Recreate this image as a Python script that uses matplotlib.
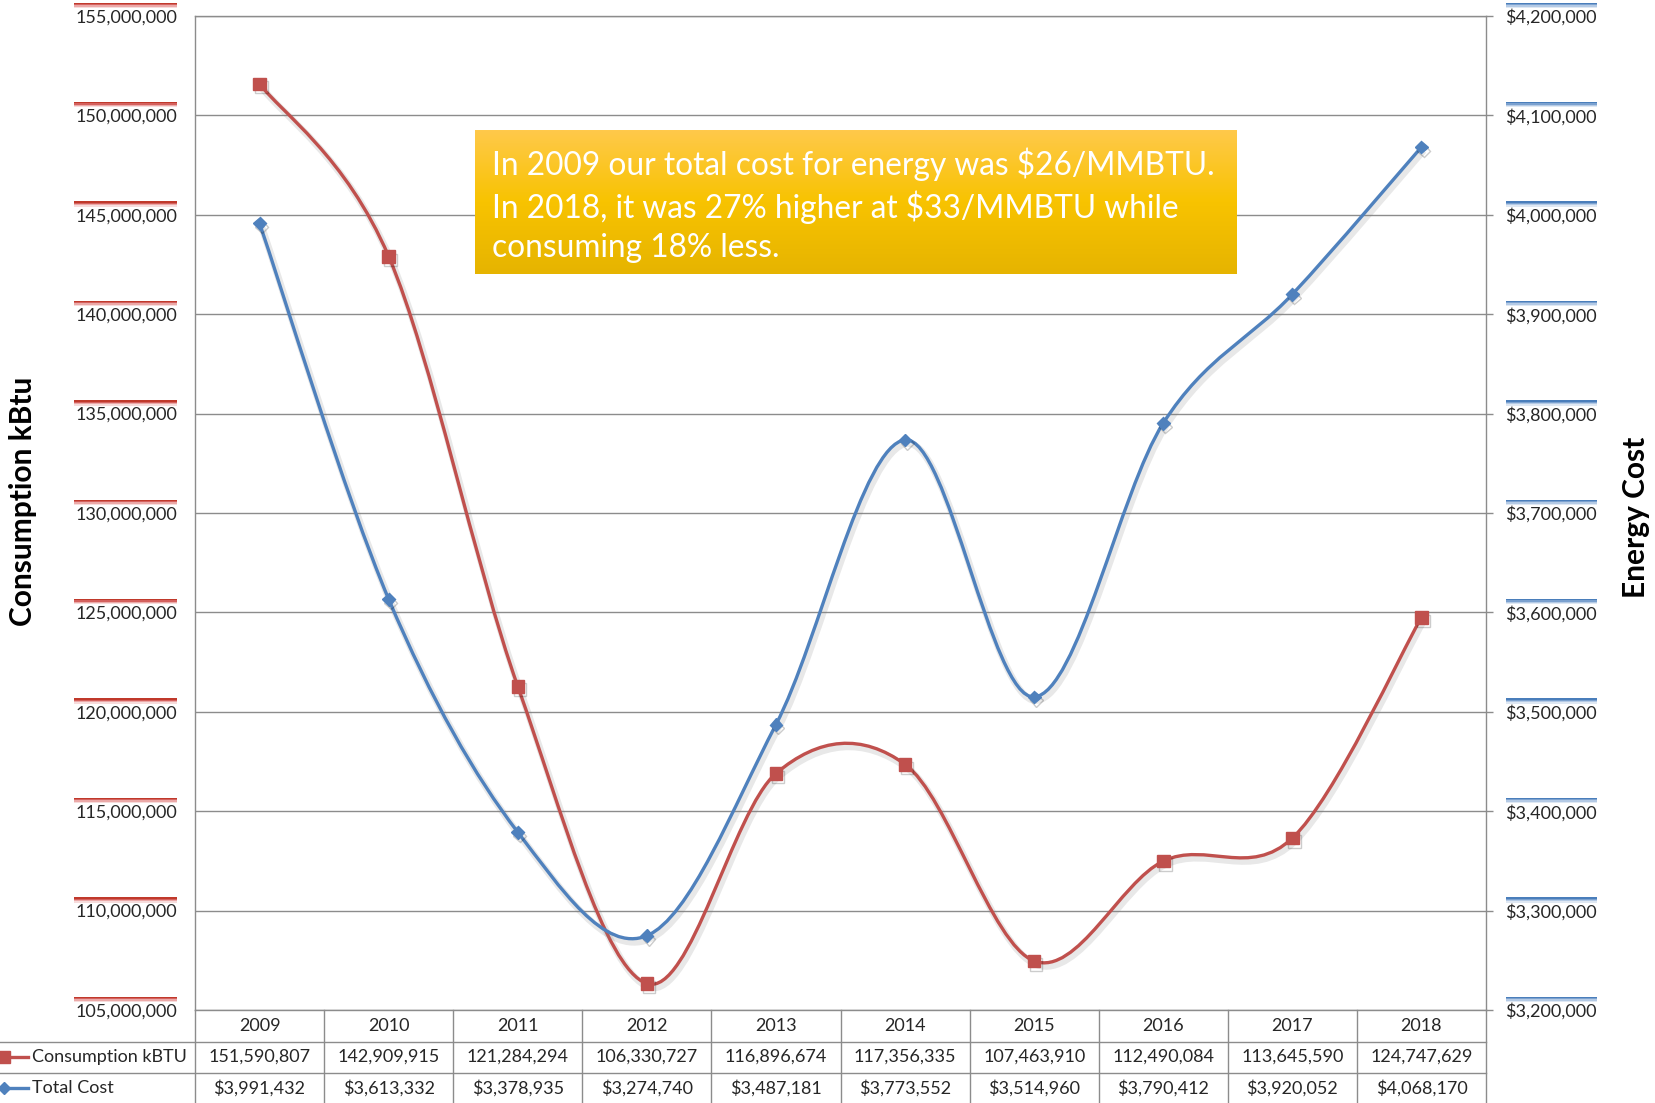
import matplotlib.pyplot as plt
import matplotlib.patheffects as pe
from matplotlib.path import Path
from matplotlib.patches import PathPatch, Rectangle
from matplotlib.lines import Line2D
from matplotlib.colors import LinearSegmentedColormap
from matplotlib.transforms import blended_transform_factory
import numpy as np

# data
years = ['2009', '2010', '2011', '2012', '2013', '2014', '2015', '2016', '2017', '2018']
consumption = [151590807, 142909915, 121284294, 106330727, 116896674,
               117356335, 107463910, 112490084, 113645590, 124747629]
total_cost = [3991432, 3613332, 3378935, 3274740, 3487181,
              3773552, 3514960, 3790412, 3920052, 4068170]
left_ticks = [105000000, 110000000, 115000000, 120000000, 125000000, 130000000,
              135000000, 140000000, 145000000, 150000000, 155000000]
right_ticks = [3200000, 3300000, 3400000, 3500000, 3600000, 3700000,
               3800000, 3900000, 4000000, 4100000, 4200000]
series_names = ['Consumption kBTU', 'Total Cost']
note = ['In 2009 our total cost for energy was $26/MMBTU.',
        'In 2018, it was 27% higher at $33/MMBTU while',
        'consuming 18% less.']

RED = '#C0504D'
BLUE = '#4F81BD'
GRID = '#8C8C8C'
TXT = '#262626'
FS = 13

plt.rcParams['font.family'] = ['Lato', 'DejaVu Sans']

W, H = 1655, 1103
fig = plt.figure(figsize=(W / 100, H / 100), dpi=100)
L, R, T, B = 195, 1486, 16, 1010
ax = fig.add_axes([L / W, (H - B) / H, (R - L) / W, (B - T) / H])
ax2 = ax.twinx()


def ax_x(px):
    return (px - L) / (R - L)


def ax_y(py):
    return (B - py) / (B - T)


def smooth_path(xs, ys):
    # Catmull-Rom style bezier through the data points (like Excel's smoothed line)
    pts = np.column_stack([xs, ys]).astype(float)
    n = len(pts)
    verts = [pts[0]]
    codes = [Path.MOVETO]
    for i in range(n - 1):
        p0 = pts[max(i - 1, 0)]
        p1 = pts[i]
        p2 = pts[i + 1]
        p3 = pts[min(i + 2, n - 1)]
        verts += [p1 + (p2 - p0) / 6, p2 - (p3 - p1) / 6, p2]
        codes += [Path.CURVE4] * 3
    return Path(verts, codes)


x = np.arange(len(years))
shadow = [pe.SimpleLineShadow(offset=(1.5, -2.5), shadow_color='#808080', alpha=0.18, linewidth=5),
          pe.Normal()]

ax.add_patch(PathPatch(smooth_path(x, consumption), fill=False, edgecolor=RED,
                       lw=2.4, path_effects=shadow, zorder=3))
ax.plot(x, consumption, 's', color=RED, markersize=9, zorder=4,
        path_effects=[pe.SimpleLineShadow(offset=(1.5, -2.5), alpha=0.2), pe.Normal()])
ax2.add_patch(PathPatch(smooth_path(x, total_cost), fill=False, edgecolor=BLUE,
                        lw=2.4, path_effects=shadow, zorder=3))
ax2.plot(x, total_cost, 'D', color=BLUE, markersize=6.5, zorder=4,
         path_effects=[pe.SimpleLineShadow(offset=(1.5, -2.5), alpha=0.2), pe.Normal()])

ax.set_xlim(-0.5, len(years) - 0.5)
ax.set_xticks([])
ax.set_ylim(105000000, 155000000)
ax.set_yticks(left_ticks)
ax.set_yticklabels([f'{v:,}' for v in left_ticks])
ax.tick_params(axis='y', length=0, pad=13, labelsize=FS, labelcolor=TXT)
ax.grid(axis='y', color=GRID, lw=1)
ax.set_axisbelow(True)
for s in ax.spines.values():
    s.set_color(GRID)
    s.set_linewidth(1)

ax2.set_ylim(3200000, 4200000)
ax2.set_yticks(right_ticks)
ax2.set_yticklabels([f'${v:,}' for v in right_ticks])
ax2.tick_params(axis='y', direction='out', length=5, width=1, color=GRID,
                pad=9, labelsize=FS, labelcolor=TXT)
for s in ax2.spines.values():
    s.set_visible(False)

# coloured bars above the tick labels
px_l = 50000000 / (B - T)
px_r = 1000000 / (B - T)
for v in left_ticks:
    for k, c in enumerate(['#C0392B', '#D4615E', '#EBA9A8', '#F7DCDC']):
        ax.add_patch(Rectangle((ax_x(74), v + (12 - k * 1.3) * px_l), ax_x(177) - ax_x(74),
                               1.4 * px_l, transform=ax.get_yaxis_transform(),
                               color=c, lw=0, clip_on=False))
for v in right_ticks:
    for k, c in enumerate(['#4A7EBB', '#7BA1CF', '#B4CAE5', '#DFE8F3']):
        ax2.add_patch(Rectangle((ax_x(1506), v + (12 - k * 1.3) * px_r), ax_x(1597) - ax_x(1506),
                                1.4 * px_r, transform=ax2.get_yaxis_transform(),
                                color=c, lw=0, clip_on=False))

fig.text(23 / W, (H - 501) / H, 'Consumption kBtu', rotation=90, ha='center', va='center',
         fontsize=21.5, fontweight='bold', color='black')
fig.text(1636 / W, (H - 517) / H, 'Energy Cost', rotation=90, ha='center', va='center',
         fontsize=21.5, fontweight='bold', color='black')

# data table
tr = blended_transform_factory(ax.transData, ax.transAxes)
row_y = [ax_y(1026), ax_y(1057), ax_y(1088)]
for yy in [ax_y(1041.5), ax_y(1073)]:
    ax.add_line(Line2D([ax_x(0), 1], [yy, yy], transform=ax.transAxes, color=GRID, lw=1, clip_on=False))
for k in range(len(years) + 1):
    ax.add_line(Line2D([k - 0.5, k - 0.5], [0, ax_y(1110)], transform=tr, color=GRID, lw=1, clip_on=False))
for i, yr in enumerate(years):
    ax.text(i, row_y[0], yr, transform=tr, ha='center', va='center', fontsize=FS, color=TXT)
    ax.text(i, row_y[1], f'{consumption[i]:,}', transform=tr, ha='center', va='center',
            fontsize=FS, color=TXT)
    ax.text(i, row_y[2], f'${total_cost[i]:,}', transform=tr, ha='center', va='center',
            fontsize=FS, color=TXT)
for (name, c, m, ms), yy in zip([(series_names[0], RED, 's', 9), (series_names[1], BLUE, 'D', 6.5)],
                                row_y[1:]):
    ax.add_line(Line2D([ax_x(0), ax_x(28)], [yy, yy], transform=ax.transAxes, color=c, lw=2.4,
                       clip_on=False))
    ax.add_line(Line2D([ax_x(4)], [yy], transform=ax.transAxes, color=c, marker=m, markersize=ms,
                       clip_on=False))
    ax.text(ax_x(32), yy, name, transform=ax.transAxes, ha='left', va='center',
            fontsize=FS, color=TXT)

# note box
nb = fig.add_axes([475 / W, (H - 274) / H, 762 / W, 144 / H])
cmap = LinearSegmentedColormap.from_list('gold', ['#FFC94A', '#F8C300', '#E6B400'])
nb.imshow(np.linspace(0, 1, 100).reshape(-1, 1), cmap=cmap, aspect='auto', extent=[0, 1, 0, 1])
nb.set_xlim(0, 1)
nb.set_ylim(0, 1)
nb.axis('off')
for line, py in zip(note, [161, 204, 245]):
    nb.text((492 - 475) / 762, (274 - py) / 144, line, ha='left', va='center_baseline',
            fontsize=22.8, color='white')

plt.savefig('out.png', dpi=100)
